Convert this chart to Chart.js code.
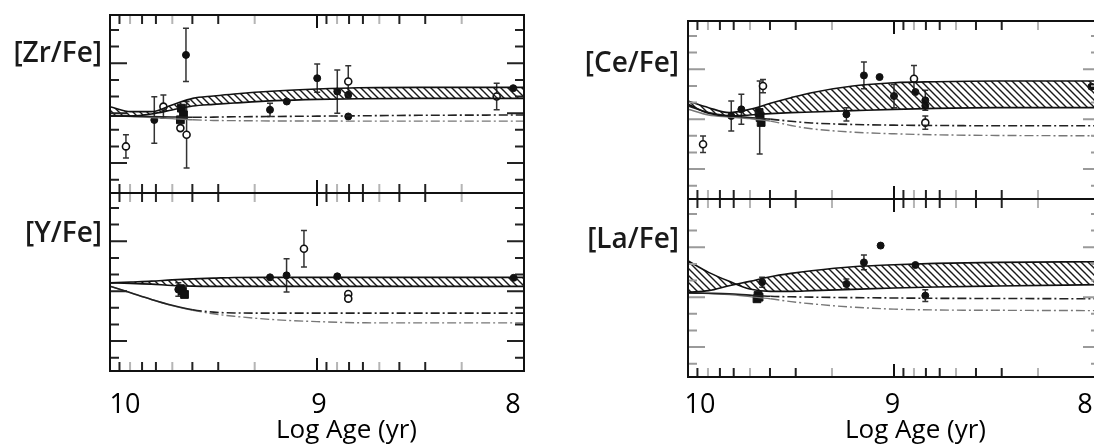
<!DOCTYPE html>
<html>
<head>
<meta charset="utf-8">
<script src="https://cdn.jsdelivr.net/npm/chart.js@4.4.0/dist/chart.umd.min.js"></script>
<style>
  html, body { margin: 0; padding: 0; background: #fff; }
  body { width: 1094px; height: 447px; overflow: hidden; position: relative; font-family: 'Open Sans', sans-serif; }
  canvas { position: absolute; top: 0; }
  .lbl { position: absolute; width: 140px; text-align: right; font-weight: 600; font-size: 28px; line-height: 28px; color: #1a1a1a; }
  .xt { position: absolute; font-size: 26px; line-height: 26px; color: #000; white-space: nowrap; }
</style>
</head>
<body>
<canvas id="zr" width="560" height="447" style="left:0"></canvas>
<canvas id="y" width="560" height="447" style="left:0"></canvas>
<canvas id="ce" width="560" height="447" style="left:560px"></canvas>
<canvas id="la" width="560" height="447" style="left:560px"></canvas>

<div class="lbl" style="left:-38px;top:37px">[Zr/Fe]</div>
<div class="lbl" style="left:-38px;top:217px">[Y/Fe]</div>
<div class="lbl" style="left:539px;top:47px">[Ce/Fe]</div>
<div class="lbl" style="left:539px;top:223px">[La/Fe]</div>
<div class="xt" style="left:276px;top:415px">Log Age (yr)</div>
<div class="xt" style="left:845px;top:415px">Log Age (yr)</div>

<script>
// model curves are all sampled at the same log ages
const curveAges = [10, 9.9, 9.8, 9.7, 9.6, 9.5, 9.4, 9.2, 9.0, 8.8, 8.5, 8.0];
const xLabels = [10, 9, 8];

// [Zr/Fe]
const zrBandHi = [-0.061, -0.091, -0.091, -0.051, -0.011, 0.003, 0.015, 0.033, 0.045, 0.053, 0.055, 0.055];
const zrBandLo = [-0.117, -0.117, -0.105, -0.081, -0.057, -0.047, -0.039, -0.025, -0.017, -0.013, -0.011, -0.011];
const zrModelA = [-0.117, -0.118, -0.12, -0.123, -0.125, -0.124, -0.122, -0.12, -0.118, -0.116, -0.113, -0.111];
const zrModelB = [-0.117, -0.12, -0.126, -0.133, -0.14, -0.144, -0.145, -0.147, -0.147, -0.148, -0.148, -0.148];
const zrBigAge = [9.655, 9.645, 9.66];
const zrBigVal = [-0.07, -0.11, -0.14];
const zrFillAge = [9.786, 9.633, 9.146, 9.227, 8.999, 8.902, 8.849, 8.849, 8.052];
const zrFillVal = [-0.141, 0.25, -0.03, -0.08, 0.11, 0.03, 0.01, -0.12, 0.05];
const zrFillErr = [0.14, 0.16, 0, 0.04, 0.085, 0.13, 0, 0, 0];
const zrOpenAge = [9.923, 9.742, 9.66, 9.63, 8.849, 8.132];
const zrOpenVal = [-0.30, -0.061, -0.19, -0.23, 0.09, 0.0];
const zrOpenErr = [0.07, 0.07, 0, 0.2, 0.095, 0.08];

// [Y/Fe]
const yBandHi = [-0.05, -0.045, -0.04, -0.032, -0.026, -0.022, -0.018, -0.017, -0.017, -0.017, -0.017, -0.017];
const yBandLo = [-0.05, -0.053, -0.058, -0.066, -0.07, -0.071, -0.071, -0.071, -0.071, -0.071, -0.071, -0.071];
const yModelA = [-0.07, -0.11, -0.15, -0.185, -0.212, -0.226, -0.231, -0.232, -0.232, -0.232, -0.232, -0.232];
const yModelB = [-0.07, -0.11, -0.15, -0.187, -0.215, -0.236, -0.251, -0.272, -0.283, -0.29, -0.291, -0.291];
const yBigAge = [9.66, 9.65, 9.64];
const yBigVal = [-0.085, -0.10, -0.12];
const yFillAge = [9.67, 9.227, 9.147, 8.902, 8.05];
const yFillVal = [-0.09, -0.017, -0.005, -0.011, -0.02];
const yFillErr = [0.04, 0, 0.10, 0, 0];
const yOpenAge = [9.063, 8.849, 8.849];
const yOpenVal = [0.155, -0.117, -0.145];
const yOpenErr = [0.11, 0, 0];

// [Ce/Fe]
const ceBandHi = [0.009, -0.031, -0.061, -0.041, -0.005, 0.029, 0.059, 0.099, 0.119, 0.125, 0.129, 0.129];
const ceBandLo = [-0.011, -0.065, -0.081, -0.075, -0.067, -0.061, -0.057, -0.049, -0.041, -0.035, -0.031, -0.031];
const ceModelA = [-0.02, -0.06, -0.08, -0.09, -0.10, -0.113, -0.123, -0.132, -0.136, -0.138, -0.14, -0.14];
const ceModelB = [-0.04, -0.075, -0.087, -0.097, -0.112, -0.138, -0.158, -0.178, -0.188, -0.194, -0.198, -0.20];
const ceBigAge = [9.655, 9.65, 9.645];
const ceBigVal = [-0.06, -0.09, -0.12];
const ceFillAge = [9.79, 9.741, 9.652, 9.231, 9.146, 9.07, 9.0, 8.896, 8.848, 8.848, 8.042];
const ceFillVal = [-0.081, -0.041, -0.09, -0.071, 0.163, 0.153, 0.039, 0.063, 0.013, -0.02, 0.095];
const ceFillErr = [0.09, 0.09, 0.22, 0.04, 0.08, 0, 0.07, 0, 0.06, 0, 0];
const ceOpenAge = [9.927, 9.636, 8.903, 8.848];
const ceOpenVal = [-0.251, 0.099, 0.143, -0.121];
const ceOpenErr = [0.05, 0.04, 0.08, 0.04];

// [La/Fe]
const laBandHi = [-0.071, -0.061, -0.031, -0.005, 0.023, 0.043, 0.059, 0.083, 0.095, 0.103, 0.109, 0.113];
const laBandLo = [0.119, 0.049, -0.005, -0.051, -0.065, -0.065, -0.061, -0.053, -0.045, -0.039, -0.033, -0.025];
const laModelA = [-0.075, -0.077, -0.08, -0.088, -0.095, -0.098, -0.10, -0.103, -0.105, -0.107, -0.108, -0.11];
const laModelB = [-0.075, -0.078, -0.085, -0.097, -0.11, -0.127, -0.14, -0.16, -0.172, -0.177, -0.179, -0.181];
const laBigAge = [9.66, 9.665, 9.655];
const laBigVal = [-0.09, -0.11, -0.10];
const laFillAge = [9.64, 9.231, 9.146, 9.065, 8.896, 8.848];
const laFillVal = [-0.01, -0.021, 0.109, 0.21, 0.093, -0.091];
const laFillErr = [0.03, 0.03, 0.045, 0, 0, 0.035];
const laOpenAge = [];
const laOpenVal = [];
const laOpenErr = [];

// minor ticks of the age axis: k x 10^8 and k x 10^9 yr
const tickK = [2, 3, 4, 5, 6, 7, 8, 9];
const fadedK = [2, 5, 8];
const yTicks = [0.4, 0.3, 0.2, 0.1, 0, -0.1, -0.2, -0.3, -0.4, -0.5];
const yLongTicks = [0.2, -0.1, -0.4];

function pts(ages, vals) {
	return ages.map((a, i) => ({x: a, y: vals[i]}));
}

function hatchPattern() {
	let c = document.createElement('canvas');
	c.width = 7;
	c.height = 7;
	let g = c.getContext('2d');
	g.strokeStyle = '#1a1a1a';
	g.lineWidth = 1.4;
	g.beginPath();
	g.moveTo(-1, -1); g.lineTo(8, 8);
	g.moveTo(-1, 6); g.lineTo(1, 8);
	g.moveTo(6, -1); g.lineTo(8, 1);
	g.stroke();
	return g.createPattern(c, 'repeat');
}

// frame, inward ticks and error bars
var framePlugin = {
	id: 'frame',
	beforeDatasetsDraw(chart) {
		const ctx = chart.ctx, x = chart.scales.x, y = chart.scales.y;
		ctx.save();
		ctx.strokeStyle = '#333';
		ctx.lineWidth = 1.5;
		chart.data.datasets.forEach(ds => {
			if (!ds.errors) return;
			ds.data.forEach((p, j) => {
				let e = ds.errors[j];
				if (!e) return;
				let px = x.getPixelForValue(p.x);
				let t = y.getPixelForValue(p.y + e), b = y.getPixelForValue(p.y - e);
				ctx.beginPath();
				ctx.moveTo(px, t); ctx.lineTo(px, b);
				ctx.moveTo(px - 3, t); ctx.lineTo(px + 3, t);
				ctx.moveTo(px - 3, b); ctx.lineTo(px + 3, b);
				ctx.stroke();
			});
		});
		ctx.restore();
	},
	afterDraw(chart) {
		const ctx = chart.ctx, a = chart.chartArea, x = chart.scales.x, y = chart.scales.y;
		const yCol = chart.options.plugins.frame.yTickColor;
		ctx.save();
		ctx.lineWidth = 2;
		// x ticks on top and bottom
		let xt = [{v: 9, len: 13, c: '#111'}];
		[9, 8].forEach(e => tickK.forEach(k => {
			xt.push({v: e + Math.log10(k), len: 9, c: fadedK.includes(k) ? '#b5b5b5' : '#222'});
		}));
		xt.forEach(t => {
			let px = x.getPixelForValue(t.v);
			ctx.strokeStyle = t.c;
			ctx.beginPath();
			ctx.moveTo(px, a.top); ctx.lineTo(px, a.top + t.len);
			ctx.moveTo(px, a.bottom); ctx.lineTo(px, a.bottom - t.len);
			ctx.stroke();
		});
		// y ticks on both sides
		ctx.strokeStyle = yCol;
		yTicks.forEach(v => {
			let py = y.getPixelForValue(v);
			let len = yLongTicks.includes(v) ? 17 : 9;
			ctx.beginPath();
			ctx.moveTo(a.left, py); ctx.lineTo(a.left + len, py);
			ctx.moveTo(a.right, py); ctx.lineTo(a.right - len, py);
			ctx.stroke();
		});
		ctx.strokeStyle = '#111';
		ctx.strokeRect(a.left, a.top, a.right - a.left, a.bottom - a.top);
		ctx.restore();
	}
};

function dashAfter(ctx) {
	return ctx.p0.parsed.x <= 9.6 ? [9, 3, 2, 3] : undefined;
}

function makePanel(id, p) {
	let datasets = [
		{data: pts(curveAges, p.bandHi), showLine: true, borderColor: '#111', borderWidth: 1.6, pointRadius: 0, fill: false, cubicInterpolationMode: 'monotone'},
		{data: pts(curveAges, p.bandLo), showLine: true, borderColor: '#111', borderWidth: 1.6, pointRadius: 0, fill: '-1', backgroundColor: hatchPattern(), cubicInterpolationMode: 'monotone'},
		{data: pts(curveAges, p.modelA), showLine: true, borderColor: '#222', borderWidth: 1.6, pointRadius: 0, fill: false, cubicInterpolationMode: 'monotone', segment: {borderDash: dashAfter}},
		{data: pts(curveAges, p.modelB), showLine: true, borderColor: '#777', borderWidth: 1.4, pointRadius: 0, fill: false, cubicInterpolationMode: 'monotone', segment: {borderDash: dashAfter}},
		{data: pts(p.bigAge, p.bigVal), showLine: false, pointStyle: 'rect', pointRadius: 5.5, backgroundColor: '#111', borderColor: '#111'},
		{data: pts(p.fillAge, p.fillVal), errors: p.fillErr, showLine: false, pointRadius: 3.5, backgroundColor: '#111', borderColor: '#111'},
		{data: pts(p.openAge, p.openVal), errors: p.openErr, showLine: false, pointRadius: 3.5, borderWidth: 1.6, backgroundColor: '#fff', borderColor: '#111'}
	];

	let scales = {
		x: {type: 'linear', min: 8, max: 10, reverse: true, display: false},
		y: {type: 'linear', min: -0.58, max: 0.49, display: false}
	};
	if (p.labelRange) {
		// the printed labels sit a little inside the end ticks in the source figure
		scales.xl = {
			type: 'linear', position: 'bottom', reverse: true,
			min: p.labelRange[0], max: p.labelRange[1],
			afterBuildTicks: s => { s.ticks = xLabels.map(v => ({value: v})); },
			afterFit: s => { s.height = p.axisHeight; },
			grid: {display: false, drawTicks: false},
			border: {display: false},
			ticks: {padding: p.labelPad, color: '#000', font: {family: 'Open Sans', size: 27}, callback: v => String(v)}
		};
	}

	new Chart(document.getElementById(id), {
		type: 'line',
		data: {datasets: datasets},
		options: {
			responsive: false,
			animation: false,
			layout: {padding: p.padding},
			plugins: {legend: {display: false}, tooltip: {enabled: false}, frame: {yTickColor: p.yTickColor}},
			scales: scales
		},
		plugins: [framePlugin]
	});
}

makePanel('zr', {
	bandHi: zrBandHi, bandLo: zrBandLo, modelA: zrModelA, modelB: zrModelB,
	bigAge: zrBigAge, bigVal: zrBigVal,
	fillAge: zrFillAge, fillVal: zrFillVal, fillErr: zrFillErr,
	openAge: zrOpenAge, openVal: zrOpenVal, openErr: zrOpenErr,
	padding: {left: 110, right: 36, top: 15, bottom: 254}, yTickColor: '#222'
});
makePanel('y', {
	bandHi: yBandHi, bandLo: yBandLo, modelA: yModelA, modelB: yModelB,
	bigAge: yBigAge, bigVal: yBigVal,
	fillAge: yFillAge, fillVal: yFillVal, fillErr: yFillErr,
	openAge: yOpenAge, openVal: yOpenVal, openErr: yOpenErr,
	padding: {left: 110, right: 36, top: 193, bottom: 0}, yTickColor: '#222',
	labelRange: [7.943, 10.077], labelPad: 18, axisHeight: 76
});
makePanel('ce', {
	bandHi: ceBandHi, bandLo: ceBandLo, modelA: ceModelA, modelB: ceModelB,
	bigAge: ceBigAge, bigVal: ceBigVal,
	fillAge: ceFillAge, fillVal: ceFillVal, fillErr: ceFillErr,
	openAge: ceOpenAge, openVal: ceOpenVal, openErr: ceOpenErr,
	padding: {left: 128, right: 20, top: 21, bottom: 248}, yTickColor: '#9a9a9a'
});
makePanel('la', {
	bandHi: laBandHi, bandLo: laBandLo, modelA: laModelA, modelB: laModelB,
	bigAge: laBigAge, bigVal: laBigVal,
	fillAge: laFillAge, fillVal: laFillVal, fillErr: laFillErr,
	openAge: laOpenAge, openVal: laOpenVal, openErr: laOpenErr,
	padding: {left: 128, right: 20, top: 199, bottom: 0}, yTickColor: '#9a9a9a',
	labelRange: [7.922, 10.062], labelPad: 12, axisHeight: 70
});
</script>
</body>
</html>
